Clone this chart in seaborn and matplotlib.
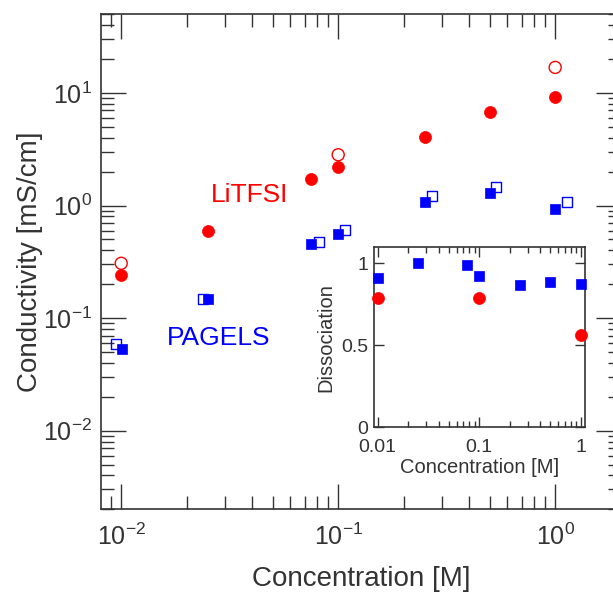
import matplotlib
matplotlib.use('Agg')
import matplotlib.pyplot as plt
import seaborn as sns
from matplotlib.ticker import LogLocator, NullFormatter, FixedLocator, FixedFormatter

# ---------------- data ----------------
litfsi_x = [0.01, 0.025, 0.075, 0.1, 0.25, 0.5, 1.0]
litfsi_y = [0.24, 0.60, 1.72, 2.2, 4.1, 6.8, 9.3]
litfsi_open_x = [0.01, 0.1, 1.0]
litfsi_open_y = [0.307, 2.83, 16.9]

pagels_x = [0.0101, 0.025, 0.075, 0.1, 0.25, 0.5, 1.0]
pagels_y = [0.0536, 0.149, 0.458, 0.557, 1.07, 1.29, 0.927]
pagels_open_x = [0.0095, 0.0239, 0.0812, 0.108, 0.272, 0.532, 1.13]
pagels_open_y = [0.0593, 0.149, 0.471, 0.604, 1.22, 1.46, 1.07]

diss_pagels_x = [0.01, 0.025, 0.075, 0.1, 0.25, 0.5, 1.0]
diss_pagels_y = [0.912, 1.006, 0.99, 0.922, 0.868, 0.888, 0.874]
diss_litfsi_x = [0.01, 0.1, 1.0]
diss_litfsi_y = [0.788, 0.788, 0.561]

inset_xticks = [0.01, 0.1, 1]
inset_xticklabels = ['0.01', '0.1', '1']
inset_yticks = [0, 0.5, 1]
inset_yticklabels = ['0', '0.5', '1']

# ---------------- style ----------------
sns.set_theme(style='ticks')
plt.rcParams['font.family'] = ['Liberation Sans', 'DejaVu Sans']
plt.rcParams['mathtext.fontset'] = 'custom'
plt.rcParams['mathtext.rm'] = 'Liberation Sans'
plt.rcParams['mathtext.it'] = 'Liberation Sans'
TXT = '#333333'
RED = '#ff0000'
BLUE = '#0000ff'

fig = plt.figure(figsize=(6.13, 5.92), dpi=100)
ax = fig.add_axes([0.164, 0.1397, 0.849, 0.836])

S_CIRC = 75
S_SQ = 52

sns.scatterplot(x=litfsi_open_x, y=litfsi_open_y, ax=ax, marker='o', s=S_CIRC,
                color=RED, facecolor='none', edgecolor=RED, linewidth=1.0, zorder=3)
sns.scatterplot(x=litfsi_x, y=litfsi_y, ax=ax, marker='o', s=S_CIRC,
                color=RED, edgecolor=RED, linewidth=0.5, zorder=4)
sns.scatterplot(x=pagels_open_x, y=pagels_open_y, ax=ax, marker='s', s=S_SQ,
                color=BLUE, facecolor='none', edgecolor=BLUE, linewidth=1.0, zorder=3)
sns.scatterplot(x=pagels_x, y=pagels_y, ax=ax, marker='s', s=S_SQ,
                color=BLUE, edgecolor=BLUE, linewidth=0.5, zorder=4)

ax.set_xscale('log')
ax.set_yscale('log')
ax.set_xlim(0.00803, 2.01)
ax.set_ylim(0.002, 50)

ax.xaxis.set_major_locator(LogLocator(base=10, numticks=10))
ax.xaxis.set_minor_locator(LogLocator(base=10, subs=range(2, 10), numticks=20))
ax.yaxis.set_major_locator(LogLocator(base=10, numticks=10))
ax.yaxis.set_minor_locator(LogLocator(base=10, subs=range(2, 10), numticks=20))
ax.xaxis.set_minor_formatter(NullFormatter())
ax.yaxis.set_minor_formatter(NullFormatter())

ax.tick_params(which='both', direction='in', top=True, right=True, colors=TXT, width=1.0)
ax.tick_params(which='major', length=18, labelsize=18, labelcolor=TXT)
ax.tick_params(which='minor', length=9.4)
ax.tick_params(axis='x', which='major', pad=10)
ax.tick_params(axis='y', which='major', pad=6)
for sp in ax.spines.values():
    sp.set_color(TXT)
    sp.set_linewidth(1.2)

ax.set_xlabel('Concentration [M]', fontsize=20, color=TXT, labelpad=12)
ax.set_ylabel('Conductivity [mS/cm]', fontsize=20, color=TXT, labelpad=0)

ax.text(0.026, 1.25, 'LiTFSI', color=RED, fontsize=19, ha='left', va='center')
ax.text(0.0163, 0.066, 'PAGELS', color=BLUE, fontsize=19, ha='left', va='center')

# ---------------- inset ----------------
ins = fig.add_axes([0.610, 0.278, 0.344, 0.3046])
sns.scatterplot(x=diss_pagels_x, y=diss_pagels_y, ax=ins, marker='s', s=S_SQ,
                color=BLUE, edgecolor=BLUE, linewidth=0.5, zorder=3, clip_on=False)
sns.scatterplot(x=diss_litfsi_x, y=diss_litfsi_y, ax=ins, marker='o', s=S_CIRC,
                color=RED, edgecolor=RED, linewidth=0.5, zorder=4, clip_on=False)
ins.set_xscale('log')
ins.set_xlim(0.0092, 1.094)
ins.set_ylim(0, 1.1)
ins.xaxis.set_major_locator(FixedLocator(inset_xticks))
ins.xaxis.set_major_formatter(FixedFormatter(inset_xticklabels))
ins.xaxis.set_minor_locator(LogLocator(base=10, subs=range(2, 10), numticks=20))
ins.xaxis.set_minor_formatter(NullFormatter())
ins.yaxis.set_major_locator(FixedLocator(inset_yticks))
ins.yaxis.set_major_formatter(FixedFormatter(inset_yticklabels))
ins.tick_params(which='both', direction='in', top=True, right=True, colors=TXT, width=1.0)
ins.tick_params(which='major', length=7, labelsize=14, labelcolor=TXT)
ins.tick_params(which='minor', length=4)
ins.tick_params(axis='x', which='major', pad=8)
ins.tick_params(axis='y', which='major', pad=4)
for sp in ins.spines.values():
    sp.set_color(TXT)
    sp.set_linewidth(1.2)
ins.set_xlabel('Concentration [M]', fontsize=14.5, color=TXT, labelpad=2)
ins.set_ylabel('Dissociation', fontsize=14.5, color=TXT, labelpad=4)

fig.savefig('out.png', dpi=100)
